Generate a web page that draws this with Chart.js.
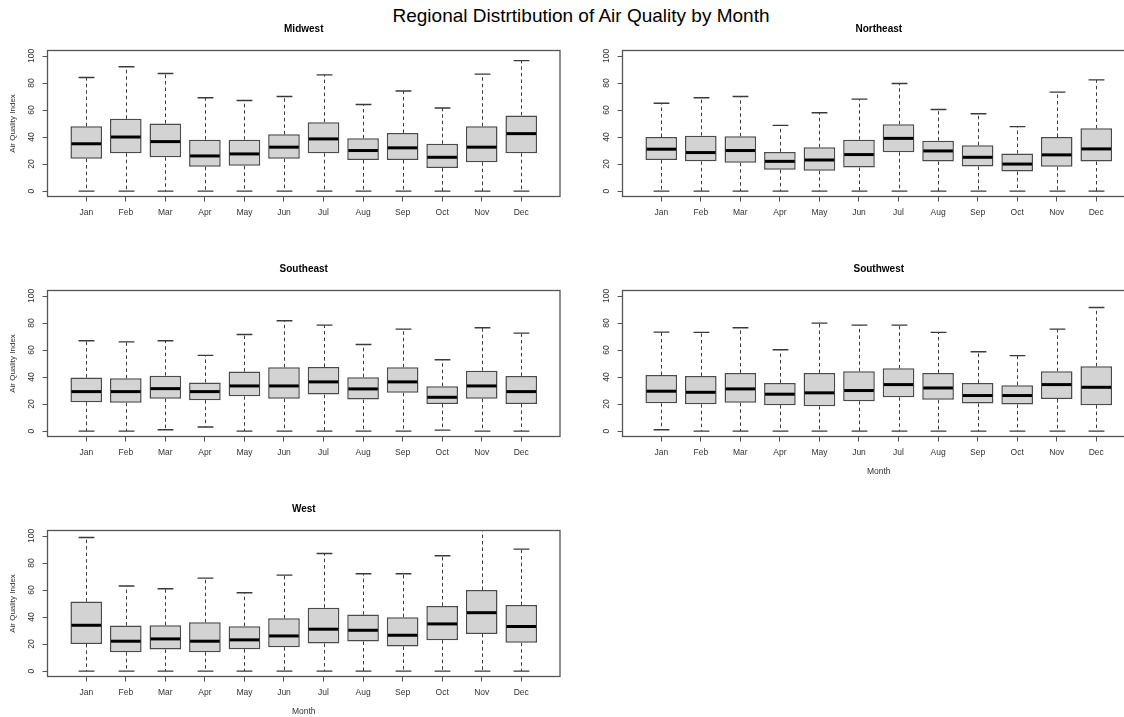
<!DOCTYPE html>
<html>
<head>
<meta charset="utf-8">
<script src="https://cdn.jsdelivr.net/npm/chart.js@4/dist/chart.umd.min.js"></script>
<style>
    body { margin: 0; width: 1124px; height: 717px; overflow: hidden; background: #fff; position: relative; }
    canvas { position: absolute; }
    #mainTitle { position: absolute; left: 0; width: 1162px; top: 6px; text-align: center; font: 19px/19px "Liberation Sans", Arial, sans-serif; color: #000; }
</style>
</head>
<body>
<div id="mainTitle">Regional Distrtibution of Air Quality by Month</div>
<canvas id="midwest" width="575" height="240" style="left:0;top:0"></canvas>
<canvas id="northeast" width="575" height="240" style="left:575px;top:0"></canvas>
<canvas id="southeast" width="575" height="240" style="left:0;top:240px"></canvas>
<canvas id="southwest" width="575" height="240" style="left:575px;top:240px"></canvas>
<canvas id="west" width="575" height="240" style="left:0;top:480px"></canvas>
<script>
const months = ['Jan', 'Feb', 'Mar', 'Apr', 'May', 'Jun', 'Jul', 'Aug', 'Sep', 'Oct', 'Nov', 'Dec'];
const yTicks = [0, 20, 40, 60, 80, 100];

// whisker low, lower quartile, median, upper quartile, whisker high
const midwestLow = [0, 0, 0, 0, 0, 0, 0, 0, 0, 0, 0, 0];
const midwestQ1 = [24, 28, 25, 18, 18.7, 24, 28, 23, 23, 17, 21.4, 28];
const midwestMed = [35, 40, 36.6, 26, 27.5, 32.5, 38.6, 30, 32, 25, 32.5, 42.5];
const midwestQ3 = [48, 53.5, 50, 38, 38, 42, 51, 39, 43, 35, 48, 56];
const midwestHigh = [84, 92, 87, 69, 67, 70, 86, 64, 74, 61.5, 86.5, 96.5];

const northeastLow = [0, 0, 0, 0, 0, 0, 0, 0, 0, 0, 0, 0];
const northeastQ1 = [23, 22, 21, 15.7, 15, 17.4, 28.7, 21.9, 18.2, 14.5, 18, 21.9];
const northeastMed = [31, 28.5, 30, 22, 23, 27, 39, 29.7, 25, 20, 26.8, 31.2];
const northeastQ3 = [40, 41, 40.5, 29, 32.4, 38, 49.4, 37.3, 33.9, 27.8, 40, 46.4];
const northeastHigh = [65, 69, 70, 48.6, 58, 68, 79.6, 60.4, 57.2, 47.7, 73.2, 82.3];

const southeastLow = [0, 0, 1, 3, 0, 0, 0, 0, 0, 0.7, 0, 0];
const southeastQ1 = [21.4, 21, 24, 22.9, 25.8, 24, 27, 23.3, 28.3, 20, 24, 20.1];
const southeastMed = [29.2, 29.2, 31.4, 29.2, 33.4, 33.4, 36.4, 31.2, 36.4, 25, 33.4, 29.2];
const southeastQ3 = [39.6, 39, 41, 36, 44, 47.2, 47.4, 39.8, 47.2, 33.2, 44.7, 40.8];
const southeastHigh = [66.8, 66, 66.8, 56, 71.5, 81.6, 78.4, 64, 75.4, 52.8, 76.4, 72.5];

const southwestLow = [1, 0, 0, 0, 0, 0, 0, 0, 0, 0, 0, 0];
const southwestQ1 = [20.6, 19.9, 20.9, 19.2, 18.4, 22.1, 25, 23.1, 20.4, 19.7, 23.8, 19.2];
const southwestMed = [29.5, 28.7, 31.2, 27.3, 28.3, 30, 34.4, 31.9, 26.3, 26.3, 34.4, 32.4];
const southwestQ3 = [41.5, 40.8, 43, 35.6, 43, 44.2, 46.4, 43, 35.6, 33.9, 44.2, 47.9];
const southwestHigh = [73.2, 73, 76.4, 60.2, 79.9, 78.4, 78.4, 73, 58.7, 55.8, 75.4, 91.4];

const westLow = [0, 0, 0, 0, 0, 0, 0, 0, 0, 0, 0, 0];
const westQ1 = [20.1, 14, 16, 14, 16.2, 17.7, 20.4, 21.9, 18.2, 22.9, 27.5, 21];
const westMed = [33.9, 22.1, 23.8, 22.1, 23.1, 26, 31, 30.2, 26.5, 34.9, 43.2, 33];
const westQ3 = [51.4, 33.7, 33.9, 36.1, 33.2, 39, 46.9, 41.8, 39.8, 48.2, 60, 48.8];
const westHigh = [98.8, 62.9, 60.9, 68.8, 58, 71, 87, 72, 72, 85.3, 110, 90.2];

const FONT = '"Liberation Sans", Arial, sans-serif';
const AXIS_COLOR = '#555';
const TEXT_COLOR = '#333';

Chart.defaults.font.family = FONT;

function boxPlugin(title, low, q1, med, q3, high, showYLabel, showXLabel) {
    return {
        id: 'box_' + title,
        beforeDatasetsDraw(chart) {
            const { ctx, chartArea: a, scales: { x, y } } = chart;
            const meta = chart.getDatasetMeta(0);
            ctx.save();
            ctx.beginPath();
            ctx.rect(a.left, a.top, a.right - a.left, a.bottom - a.top);
            ctx.clip();
            low.forEach((lo, i) => {
                const cx = Math.round(x.getPixelForValue(i)) + 0.5;
                const capHalf = meta.data[i].width / 4;
                ctx.strokeStyle = '#3a3a3a';
                ctx.lineWidth = 1;
                ctx.setLineDash([3.5, 3]);
                ctx.beginPath();
                ctx.moveTo(cx, y.getPixelForValue(q3[i]));
                ctx.lineTo(cx, y.getPixelForValue(high[i]));
                ctx.moveTo(cx, y.getPixelForValue(q1[i]));
                ctx.lineTo(cx, y.getPixelForValue(lo));
                ctx.stroke();
                ctx.setLineDash([]);
                ctx.lineWidth = 1.4;
                ctx.beginPath();
                ctx.moveTo(cx - capHalf, y.getPixelForValue(high[i]));
                ctx.lineTo(cx + capHalf, y.getPixelForValue(high[i]));
                ctx.moveTo(cx - capHalf, y.getPixelForValue(lo));
                ctx.lineTo(cx + capHalf, y.getPixelForValue(lo));
                ctx.stroke();
            });
            ctx.restore();
        },
        afterDatasetsDraw(chart) {
            const { ctx, scales: { y } } = chart;
            const meta = chart.getDatasetMeta(0);
            ctx.save();
            ctx.strokeStyle = '#000';
            ctx.lineWidth = 3;
            med.forEach((m, i) => {
                const bar = meta.data[i];
                const py = y.getPixelForValue(m);
                ctx.beginPath();
                ctx.moveTo(bar.x - bar.width / 2 + 1, py);
                ctx.lineTo(bar.x + bar.width / 2 - 1, py);
                ctx.stroke();
            });
            ctx.restore();
        },
        afterDraw(chart) {
            const { ctx, chartArea: a, scales: { y } } = chart;
            ctx.save();
            // frame
            ctx.strokeStyle = AXIS_COLOR;
            ctx.lineWidth = 1.3;
            ctx.strokeRect(a.left, a.top, a.right - a.left, a.bottom - a.top);
            // y axis ticks, R style rotated labels
            ctx.lineWidth = 1;
            ctx.beginPath();
            ctx.moveTo(a.left, y.getPixelForValue(yTicks[0]));
            ctx.lineTo(a.left, y.getPixelForValue(yTicks[yTicks.length - 1]));
            yTicks.forEach(v => {
                const py = Math.round(y.getPixelForValue(v)) + 0.5;
                ctx.moveTo(a.left - 5, py);
                ctx.lineTo(a.left, py);
            });
            ctx.stroke();
            ctx.fillStyle = TEXT_COLOR;
            ctx.font = '8.5px ' + FONT;
            ctx.textAlign = 'center';
            ctx.textBaseline = 'middle';
            yTicks.forEach(v => {
                ctx.save();
                ctx.translate(a.left - 15.5, y.getPixelForValue(v));
                ctx.rotate(-Math.PI / 2);
                ctx.fillText(String(v), 0, 0);
                ctx.restore();
            });
            if (showYLabel) {
                ctx.save();
                ctx.font = '8px ' + FONT;
                ctx.translate(13, (a.top + a.bottom) / 2);
                ctx.rotate(-Math.PI / 2);
                ctx.fillText('Air Quality Index', 0, 0);
                ctx.restore();
            }
            if (showXLabel) {
                ctx.font = '8.5px ' + FONT;
                ctx.fillText('Month', (a.left + a.right) / 2, a.bottom + 35.5);
            }
            ctx.fillStyle = '#000';
            ctx.font = 'bold 10px ' + FONT;
            ctx.fillText(title, (a.left + a.right) / 2, a.top - 21);
            ctx.restore();
        }
    };
}

function makePanel(canvasId, title, low, q1, med, q3, high, showYLabel, showXLabel) {
    const ctx = document.getElementById(canvasId).getContext('2d');
    return new Chart(ctx, {
        type: 'bar',
        data: {
            datasets: [{
                data: months.map((m, i) => ({ x: i, y: [q1[i], q3[i]] })),
                backgroundColor: '#d3d3d3',
                borderColor: '#4a4a4a',
                borderWidth: 1.5,
                borderSkipped: false,
                categoryPercentage: 1,
                barPercentage: 0.8
            }]
        },
        options: {
            responsive: false,
            animation: false,
            devicePixelRatio: 1,
            layout: { padding: { left: 47.5, right: 15, top: 50.5, bottom: 18.5 } },
            plugins: { legend: { display: false }, tooltip: { enabled: false } },
            scales: {
                x: {
                    type: 'linear',
                    min: -0.98,
                    max: 11.98,
                    offset: false,
                    afterBuildTicks: s => { s.ticks = months.map((m, i) => ({ value: i })); },
                    afterFit: s => { s.height = 25; },
                    ticks: {
                        autoSkip: false,
                        maxRotation: 0,
                        padding: 6,
                        color: TEXT_COLOR,
                        font: { size: 8.5 },
                        callback: v => months[v]
                    },
                    grid: { offset: false, drawOnChartArea: false, drawTicks: true, tickLength: 5, color: AXIS_COLOR },
                    border: { display: false }
                },
                y: { display: false, min: -4, max: 104 }
            }
        },
        plugins: [boxPlugin(title, low, q1, med, q3, high, showYLabel, showXLabel)]
    });
}

makePanel('midwest', 'Midwest', midwestLow, midwestQ1, midwestMed, midwestQ3, midwestHigh, true, false);
makePanel('northeast', 'Northeast', northeastLow, northeastQ1, northeastMed, northeastQ3, northeastHigh, false, false);
makePanel('southeast', 'Southeast', southeastLow, southeastQ1, southeastMed, southeastQ3, southeastHigh, true, false);
makePanel('southwest', 'Southwest', southwestLow, southwestQ1, southwestMed, southwestQ3, southwestHigh, false, true);
makePanel('west', 'West', westLow, westQ1, westMed, westQ3, westHigh, true, true);
</script>
</body>
</html>
